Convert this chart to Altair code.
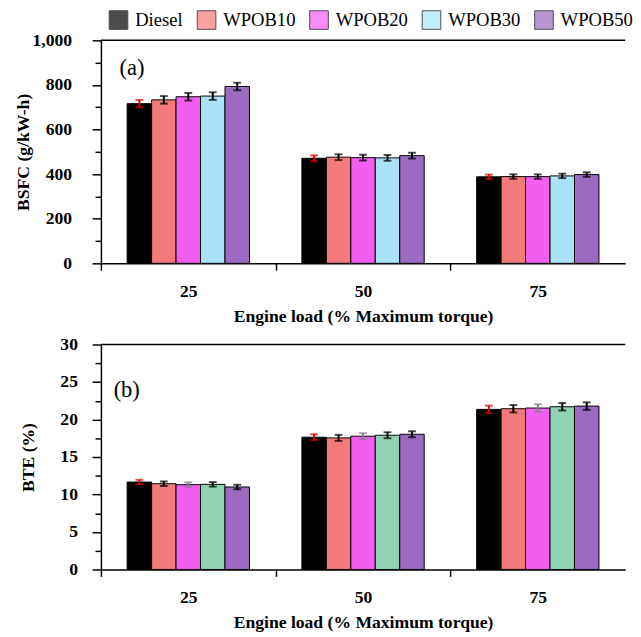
import altair as alt
import pandas as pd

loads = ["25", "50", "75"]
fuels = ["Diesel", "WPOB10", "WPOB20", "WPOB30", "WPOB50"]

# (a) BSFC (g/kW-h)
bsfc_diesel = [716, 471, 388]
bsfc_wpob10 = [733, 476, 389]
bsfc_wpob20 = [747, 474, 389]
bsfc_wpob30 = [750, 473, 392]
bsfc_wpob50 = [793, 483, 398]
bsfc_err = [17, 13, 10]

# (b) BTE (%)
bte_diesel = [11.66, 17.64, 21.35]
bte_wpob10 = [11.44, 17.55, 21.44]
bte_wpob20 = [11.31, 17.77, 21.53]
bte_wpob30 = [11.35, 17.90, 21.70]
bte_wpob50 = [11.00, 18.03, 21.79]
bte_err = [0.30, 0.40, 0.50]

colors_a = ["#000000", "#F47A7A", "#F25EF0", "#A8E4F6", "#9A6BC0"]
colors_b = ["#000000", "#F47A7A", "#F25EF0", "#8FD3B2", "#9A6BC0"]
errcol_a = ["#E00000", "#000000", "#000000", "#000000", "#000000"]
errcol_b = ["#E00000", "#000000", "#808080", "#000000", "#000000"]

FONT = "Liberation Serif"
W = 536
STEP = W / 3.0


def make_df(series, errs, ecols):
    rows = []
    for fi, f in enumerate(fuels):
        for li, l in enumerate(loads):
            v = series[fi][li]
            e = errs[li]
            rows.append({"load": l, "fuel": f, "value": v,
                         "lo": v - e, "hi": v + e, "ecol": ecols[fi]})
    return pd.DataFrame(rows)


df_a = make_df([bsfc_diesel, bsfc_wpob10, bsfc_wpob20, bsfc_wpob30, bsfc_wpob50],
               bsfc_err, errcol_a)
df_b = make_df([bte_diesel, bte_wpob10, bte_wpob20, bte_wpob30, bte_wpob50],
               bte_err, errcol_b)


def panel(df, ymax, step, major, fmt, ytitle, colors, legend, label, label_xy,
          height, title_x, label_pad):
    xscale = alt.Scale(paddingInner=0.3, paddingOuter=0.15)
    xaxis = alt.Axis(title="Engine load (% Maximum torque)",
                     labelAngle=0, ticks=True, tickSize=7,
                     tickOffset=-STEP / 2, labelOffset=STEP / 2,
                     tickWidth=1.5, tickColor="black", domainWidth=1.5,
                     labelPadding=13, titlePadding=7)
    yvals = [round(i * step, 4) for i in range(int(round(ymax / step)) + 1)]
    yscale = alt.Scale(domain=[0, ymax], nice=False)
    yaxis = alt.Axis(
        title=ytitle, values=yvals, labelOverlap=False, ticks=True,
        labelExpr=f"abs(datum.value % {major}) < 1e-6 ? format(datum.value, '{fmt}') : ''",
        tickSize={"condition": {"test": f"abs(datum.value % {major}) < 1e-6", "value": 9}, "value": 6},
        tickWidth=1.5, tickColor="black", domainWidth=1.5,
        labelPadding=label_pad, titleX=title_x, grid=False)

    xs = alt.X("load:N", sort=loads, scale=xscale, axis=xaxis)
    xo = alt.XOffset("fuel:N", sort=fuels,
                     scale=alt.Scale(paddingInner=0, paddingOuter=0))

    base = alt.Chart(df)
    bars = base.mark_bar(stroke="black", strokeWidth=1).encode(
        x=xs, xOffset=xo,
        y=alt.Y("value:Q", scale=yscale, axis=yaxis),
        color=alt.Color("fuel:N", sort=fuels,
                        scale=alt.Scale(domain=fuels, range=colors),
                        legend=legend),
    )
    stems = base.mark_rule(strokeWidth=2).encode(
        x=xs, xOffset=xo,
        y=alt.Y("lo:Q", scale=yscale, axis=yaxis), y2="hi:Q",
        color=alt.Color("ecol:N", scale=None))
    cap_lo = base.mark_tick(thickness=2, size=8).encode(
        x=xs, xOffset=xo, y=alt.Y("lo:Q", scale=yscale, axis=yaxis),
        color=alt.Color("ecol:N", scale=None))
    cap_hi = base.mark_tick(thickness=2, size=8).encode(
        x=xs, xOffset=xo, y=alt.Y("hi:Q", scale=yscale, axis=yaxis),
        color=alt.Color("ecol:N", scale=None))
    top_line = alt.Chart(pd.DataFrame({"v": [ymax]})).mark_rule(
        color="black", strokeWidth=1.5).encode(
        y=alt.Y("v:Q", scale=yscale, axis=yaxis))
    txt = alt.Chart(pd.DataFrame({"t": [label]})).mark_text(
        align="left", baseline="middle", font=FONT, fontSize=23,
        color="black").encode(text="t:N", x=alt.value(label_xy[0]),
                              y=alt.value(label_xy[1]))
    return alt.layer(bars, stems, cap_lo, cap_hi, top_line, txt).properties(
        width=W, height=height)


legend_a = alt.Legend(orient="none", legendX=8, legendY=-31,
                      direction="horizontal", title=None, symbolType="square",
                      symbolSize=361, symbolStrokeColor="black",
                      symbolStrokeWidth=1, symbolOpacity=1, labelFont=FONT,
                      labelFontSize=19, labelOffset=7, columnPadding=12,
                      labelColor="black", padding=0)

top = panel(df_a, 1000, 100, 200, ",", "BSFC (g/kW-h)", colors_a, legend_a,
            "(a)", (19, 28), 228, -70, 21)
bottom = panel(df_b, 30, 2.5, 5, "d", "BTE (%)", colors_b, None,
               "(b)", (13, 47), 230, -65, 15)

chart = alt.vconcat(top, bottom, spacing=11).resolve_scale(
    color="independent").properties(
    padding={"left": 6, "top": -5, "right": 0, "bottom": 0}
).configure_axis(
    labelFont=FONT, labelFontSize=18, labelFontWeight="bold",
    labelColor="black", titleFont=FONT, titleFontSize=18,
    titleFontWeight="bold", titleColor="black", domainColor="black",
    tickColor="black"
).configure_view(stroke=None)

chart.save("out.html", embed_options={"renderer": "svg", "actions": False})
